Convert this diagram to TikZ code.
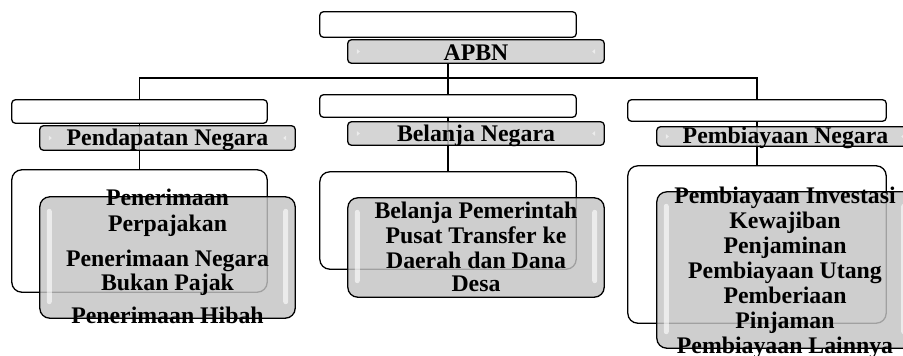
\documentclass[tikz,border=0pt]{standalone}
\usepackage{fontspec}
\setmainfont{Liberation Serif}
\definecolor{boxgray}{RGB}{196,196,196}
\definecolor{hdrgray}{RGB}{206,206,206}
\tikzset{
  conn/.style={draw=black, line width=1.8pt},
  wbox/.style={draw=black, line width=1.3pt, fill=white, inner sep=0pt},
  hdrbox/.style={draw=black, line width=1.3pt, fill=hdrgray, fill opacity=0.85, inner sep=0pt, rounded corners=3.5pt},
  bigbox/.style={draw=black, line width=1.3pt, fill=boxgray, fill opacity=0.82, inner sep=0pt, rounded corners=10pt},
  streak/.style={fill=white, fill opacity=0.6, rounded corners=2.5pt},
  tri/.style={fill=white, fill opacity=0.55},
  txt/.style={font=\fontsize{23.8}{25}\selectfont\bfseries, inner sep=0pt, anchor=base}
}
\begin{document}
\begin{tikzpicture}[x=1pt,y=-1pt]
\path[use as bounding box] (0,0) rectangle (903,356);
\clip (0,0) rectangle (903,356);
\fill[white] (0,0) rectangle (903,356);

\coordinate (bus) at (448,78);

\path
  node[minimum width=256pt, minimum height=25pt] (apbnw) at (448,24.5) {}
  node[minimum width=256pt, minimum height=23pt] (apbn) at (476,51.5) {}
  node[minimum width=255pt, minimum height=23pt] (lw) at (139.5,111.5) {}
  node[minimum width=255pt, minimum height=24pt] (lg) at (167.5,138) {}
  node[minimum width=255pt, minimum height=122pt] (lbw) at (139.5,231) {}
  node[minimum width=255pt, minimum height=121pt] (lbg) at (167.5,257.5) {}
  node[minimum width=256pt, minimum height=22pt] (mw) at (448,106) {}
  node[minimum width=256pt, minimum height=23pt] (mg) at (476,133.5) {}
  node[minimum width=256pt, minimum height=97pt] (mbw) at (448,220.5) {}
  node[minimum width=256pt, minimum height=99pt] (mbg) at (476,247.5) {}
  node[minimum width=258pt, minimum height=21pt] (rw) at (757,110.5) {}
  node[minimum width=256pt, minimum height=19pt] (rg) at (785,136.5) {}
  node[minimum width=258pt, minimum height=157pt] (rbw) at (757,244.5) {}
  node[minimum width=256pt, minimum height=156pt] (rbg) at (785,270) {};

% connectors
\draw[conn] (apbn.south -| mw.north) -- (mbw.north);
\draw[conn] (lbw.north) -- (lbw.north |- bus) -- (rbw.north |- bus) -- (rbw.north);

% top
\draw[wbox, rounded corners=3.5pt] (apbnw.north west) rectangle (apbnw.south east);
\draw[hdrbox] (apbn.north west) rectangle (apbn.south east);

% left column
\draw[wbox, rounded corners=3.5pt] (lw.north west) rectangle (lw.south east);
\draw[hdrbox] (lg.north west) rectangle (lg.south east);
\draw[wbox, rounded corners=10pt] (lbw.north west) rectangle (lbw.south east);
\draw[bigbox] (lbg.north west) rectangle (lbg.south east);

% middle column
\draw[wbox, rounded corners=3.5pt] (mw.north west) rectangle (mw.south east);
\draw[hdrbox] (mg.north west) rectangle (mg.south east);
\draw[wbox, rounded corners=10pt] (mbw.north west) rectangle (mbw.south east);
\draw[bigbox] (mbg.north west) rectangle (mbg.south east);

% right column
\draw[wbox, rounded corners=3.5pt] (rw.north west) rectangle (rw.south east);
\draw[hdrbox] (rg.north west) rectangle (rg.south east);
\draw[wbox, rounded corners=10pt] (rbw.north west) rectangle (rbw.south east);
\draw[bigbox] (rbg.north west) rectangle (rbg.south east);

% glossy streaks on the big gray boxes
\foreach \b in {lbg,mbg,rbg}{
  \fill[streak] ([xshift=7pt,yshift=-12pt]\b.north west) rectangle ([xshift=12pt,yshift=14pt]\b.south west);
  \fill[streak] ([xshift=-12pt,yshift=-12pt]\b.north east) rectangle ([xshift=-7pt,yshift=14pt]\b.south east);
}
% small highlight marks on header boxes
\foreach \b in {apbn,lg,mg,rg}{
  \fill[tri] ([xshift=9pt,yshift=2.5pt]\b.west) -- ([xshift=9pt,yshift=-2.5pt]\b.west) -- ([xshift=12pt]\b.west) -- cycle;
  \fill[tri] ([xshift=-9pt,yshift=2.5pt]\b.east) -- ([xshift=-9pt,yshift=-2.5pt]\b.east) -- ([xshift=-12pt]\b.east) -- cycle;
}

% texts
\node[txt] (tapbn) at (476,60) {APBN};
\node[txt] (tl) at (167.5,145) {Pendapatan Negara};
\node[txt] (tm) at (476,141) {Belanja Negara};
\node[txt] (tr) at (785.5,143) {Pembiayaan Negara};

\node[txt] (l1) at (167.5,205.5) {Penerimaan};
\node[txt] (l2) at (167.5,231) {Perpajakan};
\node[txt] (l3) at (167.5,266) {Penerimaan Negara};
\node[txt] (l4) at (167.5,290) {Bukan Pajak};
\node[txt] (l5) at (167.5,323.3) {Penerimaan Hibah};

\node[txt] (m1) at (476,218.3) {Belanja Pemerintah};
\node[txt] (m2) at (476,243.3) {Pusat Transfer ke};
\node[txt] (m3) at (476,268.3) {Daerah dan Dana};
\node[txt] (m4) at (476,291.7) {Desa};

\node[txt] (r1) at (785,203.3) {Pembiayaan Investasi};
\node[txt] (r2) at (785,228.3) {Kewajiban};
\node[txt] (r3) at (785,253.3) {Penjaminan};
\node[txt] (r4) at (785,278.3) {Pembiayaan Utang};
\node[txt] (r5) at (785,303.3) {Pemberiaan};
\node[txt] (r6) at (785,328.3) {Pinjaman};
\node[txt] (r7) at (785,353.3) {Pembiayaan Lainnya};
\end{tikzpicture}
\end{document}
